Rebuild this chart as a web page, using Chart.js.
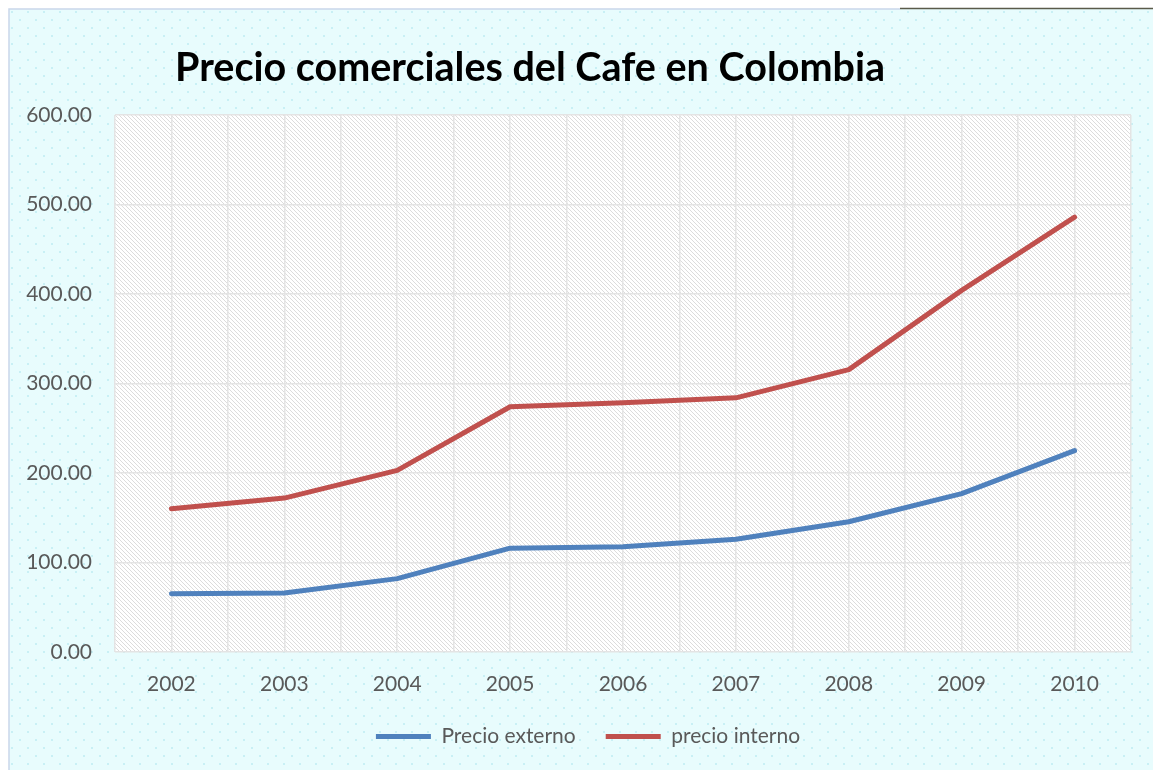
<!DOCTYPE html>
<html>
<head>
<meta charset="utf-8">
<script src="https://cdn.jsdelivr.net/npm/chart.js@4.4.1/dist/chart.umd.min.js"></script>
<style>
html,body{margin:0;padding:0;background:#ffffff;}
#wrap{position:relative;width:1153px;height:770px;}
canvas{display:block;}
</style>
</head>
<body>
<div id="wrap"><canvas id="c" width="1153" height="770"></canvas></div>
<script>
const chartTitle = "Precio comerciales del Cafe en Colombia";
const years = ["2002","2003","2004","2005","2006","2007","2008","2009","2010"];
const precioExterno = [65, 66, 82, 116, 117.5, 126, 145.5, 177, 225];
const precioInterno = [160, 172, 203, 274, 278.5, 284, 315.5, 404, 486];
const seriesNames = ["Precio externo", "precio interno"];
const seriesColors = ["#4f81bd", "#c0504d"];

function makeDots(){
  const c = document.createElement('canvas'); c.width=16; c.height=16;
  const g = c.getContext('2d');
  g.fillStyle = '#e8fcfd'; g.fillRect(0,0,16,16);
  g.fillStyle = '#c9f0f5';
  g.fillRect(3,3,2,2); g.fillRect(11,11,2,2);
  return c;
}
function makeHatch(){
  const c = document.createElement('canvas'); c.width=4; c.height=4;
  const g = c.getContext('2d');
  g.fillStyle = '#ffffff'; g.fillRect(0,0,4,4);
  g.fillStyle = '#dcdcdc';
  for(let i=0;i<4;i++){ g.fillRect(i,i,1,1); }
  return c;
}

const bgPlugin = {
  id:'bgPlugin',
  afterLayout(chart){
    if (chart.legend) { chart.legend.left += 18; chart.legend.right += 18; }
  },
  beforeDraw(chart){
    const ctx = chart.ctx;
    ctx.save();
    ctx.fillStyle = '#ffffff';
    ctx.fillRect(0,0,chart.width,chart.height);
    ctx.fillStyle = ctx.createPattern(makeDots(),'repeat');
    ctx.fillRect(9,9,chart.width-9,chart.height-9);
    ctx.strokeStyle = '#c9d6ea'; ctx.lineWidth = 1.5;
    ctx.beginPath(); ctx.moveTo(9,chart.height); ctx.lineTo(9,9); ctx.lineTo(900,9); ctx.stroke();
    ctx.strokeStyle = '#5a5a4a'; ctx.lineWidth = 1.5;
    ctx.beginPath(); ctx.moveTo(900,8.5); ctx.lineTo(chart.width,8.5); ctx.stroke();
    const a = chart.chartArea;
    ctx.fillStyle = ctx.createPattern(makeHatch(),'repeat');
    ctx.fillRect(a.left,a.top,a.right-a.left,a.bottom-a.top);
    ctx.restore();
  },
  afterDraw(chart){
    const ctx = chart.ctx;
    ctx.save();
    ctx.fillStyle = '#000000';
    ctx.font = 'bold 39.5px Lato';
    ctx.textBaseline = 'middle';
    ctx.textAlign = 'left';
    ctx.fillText(chartTitle, 175, 68);
    ctx.restore();
  }
};

const gridColor = '#e4e4e4';

new Chart(document.getElementById('c'), {
  type:'line',
  data:{
    labels: years,
    datasets:[
      {label:seriesNames[0], data:precioExterno, borderColor:seriesColors[0], backgroundColor:seriesColors[0], borderWidth:5, pointRadius:0, tension:0, borderCapStyle:'round', borderJoinStyle:'round'},
      {label:seriesNames[1], data:precioInterno, borderColor:seriesColors[1], backgroundColor:seriesColors[1], borderWidth:5, pointRadius:0, tension:0, borderCapStyle:'round', borderJoinStyle:'round'}
    ]
  },
  options:{
    responsive:false,
    animation:false,
    layout:{padding:{left:9, right:22, top:115, bottom:13}},
    scales:{
      x:{
        type:'category', offset:true,
        grid:{display:false}, border:{display:false},
        ticks:{color:'#595959', font:{family:'Lato', size:21}, padding:12},
        afterFit(s){ s.height = 44; }
      },
      xg:{
        type:'linear', position:'bottom', min:0, max:18,
        ticks:{display:false, stepSize:1},
        grid:{color:gridColor, lineWidth:1.5, drawTicks:false},
        border:{display:false},
        afterFit(s){ s.height = 0; }
      },
      y:{
        min:0, max:600,
        ticks:{stepSize:100, color:'#595959', font:{family:'Lato', size:21}, padding:23,
          callback:(v)=>Number(v).toFixed(2)},
        grid:{color:gridColor, lineWidth:1.5, drawTicks:false},
        border:{display:false},
        afterFit(s){ s.width = 106; }
      }
    },
    plugins:{
      title:{display:false},
      tooltip:{enabled:false},
      legend:{
        position:'bottom',
        labels:{
          color:'#595959', font:{family:'Lato', size:21},
          boxWidth:55, boxHeight:5, padding:30,
          generateLabels(chart){
            const items = Chart.defaults.plugins.legend.labels.generateLabels(chart);
            items.forEach(it=>{ it.lineWidth = 0; it.strokeStyle = 'rgba(0,0,0,0)'; });
            return items;
          }
        }
      }
    }
  },
  plugins:[bgPlugin]
});
</script>
</body>
</html>
